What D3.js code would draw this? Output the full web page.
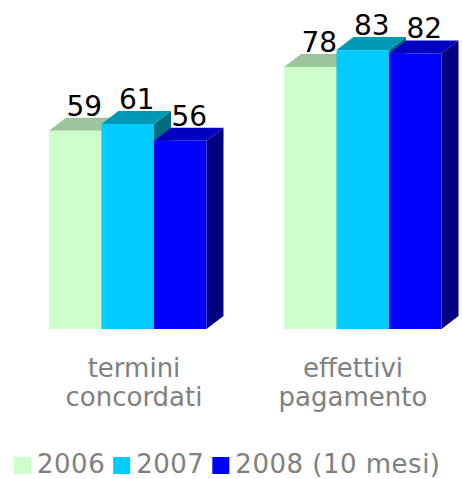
<!DOCTYPE html>
<html>
<head>
<meta charset="utf-8">
<script src="https://cdn.jsdelivr.net/npm/d3@7"></script>
<style>
  html, body { margin: 0; padding: 0; background: #ffffff; }
  svg { display: block; font-family: "DejaVu Sans", Verdana, sans-serif; }
</style>
</head>
<body>
<svg id="chart" width="462" height="479"></svg>
<script>
// ---- data ----
const categories = ["termini concordati", "effettivi pagamento"];
const categoryLines = [["termini", "concordati"], ["effettivi", "pagamento"]];
const series = ["2006", "2007", "2008 (10 mesi)"];
const values2006 = [59, 78];
const values2007 = [61, 83];
const values2008 = [56, 82];

// ---- styles ----
const frontColors = ["#ccffcc", "#00ccff", "#0000ff"];
const topColors = ["#9cc49c", "#0099b5", "#0000c0"];
const sideColors = ["#7a997a", "#006e80", "#000080"];
const textGray = "#808080";

const seriesValues = [values2006, values2007, values2008];
const svg = d3.select("#chart");

const depthX = 17, depthY = 13;

const x0 = d3.scaleBand().domain(categories).range([49, 441.5])
  .paddingInner(0.33).paddingOuter(0);
const x1 = d3.scaleBand().domain(series).range([0, x0.bandwidth()]).padding(0);
const y = d3.scaleLinear().domain([0, 100]).range([329, -7]);

const bars = [];
categories.forEach((c, ci) => {
  series.forEach((s, si) => {
    bars.push({ cat: c, ser: s, si: si, v: seriesValues[si][ci] });
  });
});

const g = svg.append("g");
bars.forEach(b => {
  const xl = x0(b.cat) + x1(b.ser);
  const xr = xl + x1.bandwidth();
  const yt = y(b.v);
  const yb = y(0);
  const bg = g.append("g");
  bg.append("path")
    .attr("d", `M${xr},${yt}L${xr + depthX},${yt - depthY}L${xr + depthX},${yb - depthY}L${xr},${yb}Z`)
    .attr("fill", sideColors[b.si]);
  bg.append("path")
    .attr("d", `M${xl},${yt}L${xl + depthX},${yt - depthY}L${xr + depthX},${yt - depthY}L${xr},${yt}Z`)
    .attr("fill", topColors[b.si]);
  bg.append("rect")
    .attr("x", xl).attr("y", yt)
    .attr("width", x1.bandwidth()).attr("height", yb - yt)
    .attr("fill", frontColors[b.si]);
});

// value labels
svg.append("g").selectAll("text").data(bars).join("text")
  .attr("x", d => x0(d.cat) + x1(d.ser) + x1.bandwidth() / 2 + 9)
  .attr("y", d => y(d.v) - 15)
  .attr("text-anchor", "middle")
  .attr("font-size", 28)
  .attr("fill", "#000000")
  .text(d => d.v);

// category labels
const xl = d3.scalePoint().domain(categories).range([134, 353]);
const catG = svg.append("g");
categories.forEach((c, ci) => {
  categoryLines[ci].forEach((line, li) => {
    catG.append("text")
      .attr("x", xl(c))
      .attr("y", 377 + li * 29)
      .attr("text-anchor", "middle")
      .attr("font-size", 26)
      .attr("fill", textGray)
      .text(line);
  });
});

// legend
const leg = svg.append("g");
let lx = 14;
series.forEach((s, si) => {
  leg.append("rect")
    .attr("x", lx).attr("y", 457)
    .attr("width", 17).attr("height", 17)
    .attr("fill", frontColors[si]);
  const t = leg.append("text")
    .attr("x", lx + 23)
    .attr("y", 473)
    .attr("font-size", 26)
    .attr("letter-spacing", 0.5)
    .attr("fill", textGray)
    .text(s);
  lx += 23 + t.node().getComputedTextLength() + 8;
});
</script>
</body>
</html>
